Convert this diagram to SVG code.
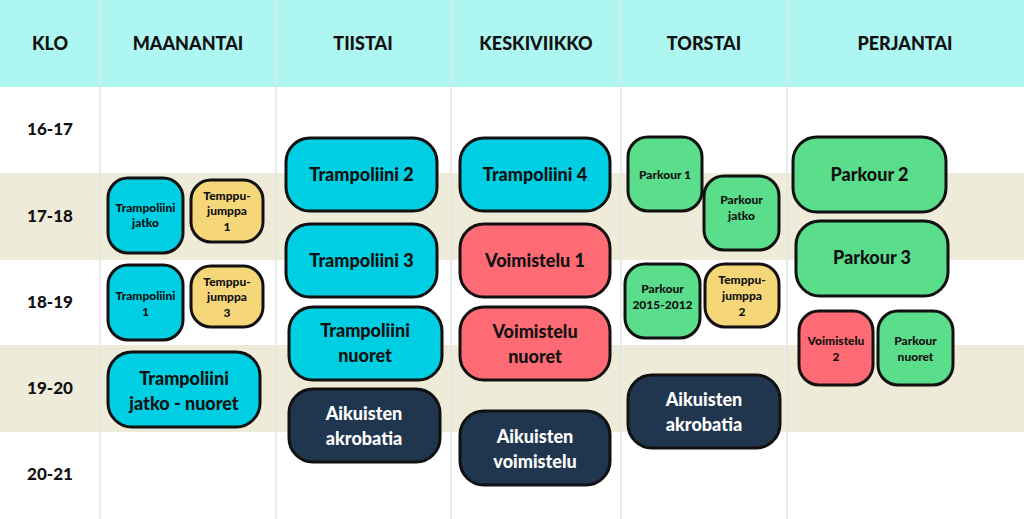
<svg xmlns="http://www.w3.org/2000/svg" width="1024" height="519" viewBox="0 0 1024 519">
<style>
text{font-family:Lato,"Open Sans",sans-serif;font-weight:900;text-anchor:middle;fill:#111}
.h{font-size:18px}
.t{font-size:17px}
.b{stroke:#111;stroke-width:3}
.c{fill:#00CFE3}.y{fill:#F5D77A}.g{fill:#5BDE8B}.r{fill:#FF6B74}.n{fill:#20364F}
.w{fill:#fff}
.l{font-size:18px}.s{font-size:12px}.m{font-size:14px}
</style>
<rect width="1024" height="519" fill="#fff"/>
<rect y="0" width="1024" height="87" fill="#AEF6F1"/>
<rect y="173" width="1024" height="87" fill="#EFEBD9"/>
<rect y="345" width="1024" height="87" fill="#EFEBD9"/>
<g stroke="#E2E6E6" stroke-width="1.5">
<line x1="100" y1="0" x2="100" y2="519"/><line x1="276" y1="0" x2="276" y2="519"/><line x1="451" y1="0" x2="451" y2="519"/><line x1="621" y1="0" x2="621" y2="519"/><line x1="787" y1="0" x2="787" y2="519"/>
</g>
<g class="h">
<text x="50" y="50" class="h">KLO</text><text x="188" y="50" class="h">MAANANTAI</text><text x="363" y="50" class="h">TIISTAI</text><text x="536" y="50" class="h">KESKIVIIKKO</text><text x="704" y="50" class="h">TORSTAI</text><text x="905" y="50" class="h">PERJANTAI</text>
</g>
<g class="t">
<text x="50" y="135" class="t">16-17</text><text x="50" y="222" class="t">17-18</text><text x="50" y="308" class="t">18-19</text><text x="50" y="394" class="t">19-20</text><text x="50" y="480" class="t">20-21</text>
</g>
<g id="nodes">
<g id="mon1"><rect class="b c" x="108" y="178" width="75" height="75" rx="20"/><text class="s" x="145.5" y="212">Trampoliini</text><text class="s" x="145.5" y="227">jatko</text></g>
<g id="mon2"><rect class="b y" x="191" y="180" width="72" height="62" rx="20"/><text class="s" x="227" y="200">Temppu-</text><text class="s" x="227" y="215">jumppa</text><text class="s" x="227" y="231">1</text></g>
<g id="mon3"><rect class="b c" x="108" y="265" width="75" height="75" rx="20"/><text class="s" x="145.5" y="300">Trampoliini</text><text class="s" x="145.5" y="316">1</text></g>
<g id="mon4"><rect class="b y" x="191" y="266" width="72" height="61" rx="20"/><text class="s" x="227" y="286">Temppu-</text><text class="s" x="227" y="301">jumppa</text><text class="s" x="227" y="317">3</text></g>
<g id="mon5"><rect class="b c" x="108" y="352" width="152" height="75" rx="24"/><text class="l" x="184" y="385">Trampoliini</text><text class="l" x="184" y="410">jatko - nuoret</text></g>
<g id="tue1"><rect class="b c" x="286" y="138" width="151" height="73" rx="24"/><text class="l" x="361.5" y="181">Trampoliini 2</text></g>
<g id="tue2"><rect class="b c" x="286" y="224" width="151" height="73" rx="24"/><text class="l" x="361.5" y="267">Trampoliini 3</text></g>
<g id="tue3"><rect class="b c" x="289" y="307" width="153" height="73" rx="24"/><text class="l" x="365" y="337">Trampoliini</text><text class="l" x="365" y="362">nuoret</text></g>
<g id="tue4"><rect class="b n" x="289" y="389" width="151" height="73" rx="24"/><text class="l" x="364" y="420" fill="#fff" style="fill:#fff">Aikuisten</text><text class="l" x="364" y="445" style="fill:#fff">akrobatia</text></g>
<g id="wed1"><rect class="b c" x="460" y="138" width="150" height="73" rx="24"/><text class="l" x="535" y="181">Trampoliini 4</text></g>
<g id="wed2"><rect class="b r" x="460" y="224" width="150" height="73" rx="24"/><text class="l" x="535" y="267">Voimistelu 1</text></g>
<g id="wed3"><rect class="b r" x="460" y="307" width="150" height="73" rx="24"/><text class="l" x="535" y="338">Voimistelu</text><text class="l" x="535" y="363">nuoret</text></g>
<g id="wed4"><rect class="b n" x="460" y="411" width="150" height="74" rx="24"/><text class="l" x="535" y="443" style="fill:#fff">Aikuisten</text><text class="l" x="535" y="468" style="fill:#fff">voimistelu</text></g>
<g id="thu1"><rect class="b g" x="628" y="137" width="74" height="74" rx="20"/><text class="s" x="665" y="179">Parkour 1</text></g>
<g id="thu2"><rect class="b g" x="704" y="176" width="75" height="74" rx="20"/><text class="s" x="741.5" y="204">Parkour</text><text class="s" x="741.5" y="220">jatko</text></g>
<g id="thu3"><rect class="b g" x="625" y="264" width="75" height="74" rx="20"/><text class="s" x="662.5" y="293">Parkour</text><text class="s" x="662.5" y="309">2015-2012</text></g>
<g id="thu4"><rect class="b y" x="705" y="264" width="74" height="63" rx="20"/><text class="s" x="742" y="284">Temppu-</text><text class="s" x="742" y="300">jumppa</text><text class="s" x="742" y="316">2</text></g>
<g id="thu5"><rect class="b n" x="628" y="375" width="152" height="73" rx="24"/><text class="l" x="704" y="406" style="fill:#fff">Aikuisten</text><text class="l" x="704" y="431" style="fill:#fff">akrobatia</text></g>
<g id="fri1"><rect class="b g" x="793" y="137" width="153" height="75" rx="24"/><text class="l" x="869.5" y="181">Parkour 2</text></g>
<g id="fri2"><rect class="b g" x="796" y="221" width="152" height="75" rx="24"/><text class="l" x="872" y="264">Parkour 3</text></g>
<g id="fri3"><rect class="b r" x="799" y="311" width="74" height="74" rx="20"/><text class="s" x="836" y="345">Voimistelu</text><text class="s" x="836" y="361">2</text></g>
<g id="fri4"><rect class="b g" x="878" y="311" width="75" height="74" rx="20"/><text class="s" x="915.5" y="345">Parkour</text><text class="s" x="915.5" y="361">nuoret</text></g>
</g>
<g id="connectors"/>
</svg>
